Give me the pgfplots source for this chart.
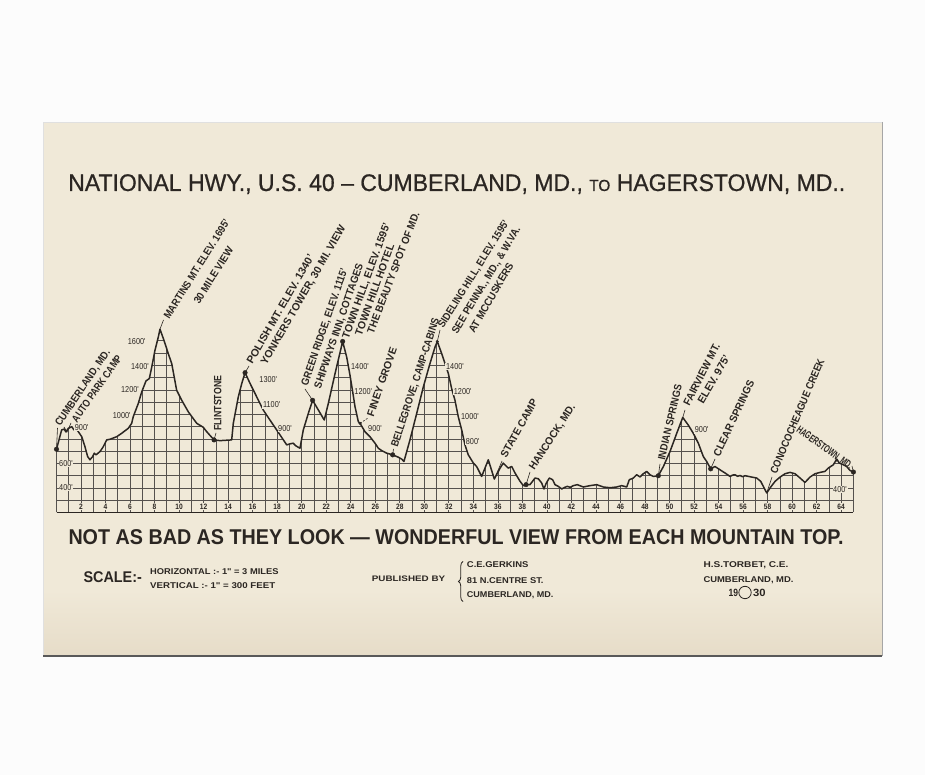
\documentclass[border=0pt]{standalone}
\usepackage{pgfplots}
\pgfplotsset{compat=1.18}
\usepackage{pgfplotstable}
\usepackage{graphicx}
\usepackage{fontspec}
\usetikzlibrary{decorations.pathreplacing}
\setmainfont{Liberation Sans}
\newfontfamily\cond{Liberation Sans}[FakeStretch=0.85]
\newfontfamily\ttlfont{Liberation Sans}[FakeBold=0.7]

\definecolor{card}{HTML}{F0E9D8}
\definecolor{cardlow}{HTML}{E6DCC8}
\definecolor{ink}{HTML}{2B2622}
\definecolor{page}{HTML}{FCFCFC}

% road profile: miles from Cumberland, elevation in feet
\pgfplotstableread{
m e
0 716
0.42 873
0.62 880
0.77 857
0.95 885
1.24 900
1.43 873
1.59 887
2.06 818
2.32 737
2.54 656
2.73 630
2.95 656
3.08 684
3.22 670
3.55 697
3.82 737
4.09 792
4.36 797
4.91 818
5.32 846
5.86 887
6.13 927
6.26 981
6.67 1089
6.95 1183
7.30 1273
7.57 1292
7.77 1386
8.03 1522
8.30 1629
8.44 1695
8.77 1603
9.12 1495
9.40 1414
9.80 1197
10.21 1116
10.75 1021
11.44 927
11.97 895
12.25 859
12.85 792
13.34 786
14.29 792
14.42 927
14.83 1143
15.11 1252
15.38 1340
15.79 1252
16.33 1143
16.87 1035
17.41 954
17.96 873
18.78 751
19.05 760
19.31 765
19.50 745
19.86 724
20.13 873
20.54 1008
20.89 1115
21.84 954
22.17 1089
22.72 1333
23.34 1595
23.67 1467
23.94 1319
24.16 1183
24.35 1062
24.62 940
24.76 927
25.16 859
25.57 818
25.98 765
26.25 724
26.52 705
26.93 684
27.42 670
27.88 651
28.16 635
28.34 616
28.83 792
29.38 1008
29.92 1224
30.46 1414
30.87 1548
31.06 1595
31.42 1495
31.69 1414
31.96 1333
32.23 1211
32.50 1116
32.77 981
33.05 873
33.32 751
33.59 670
34.00 603
34.27 575
34.68 494
35.22 630
35.71 473
36.17 560
36.44 603
36.85 562
37.13 575
37.40 522
37.81 454
38.08 419
38.30 427
38.62 427
39.03 481
39.30 475
39.57 441
39.76 392
39.95 440
40.20 481
40.47 467
40.66 427
40.93 413
41.21 392
41.45 405
41.67 413
41.90 405
42.15 419
42.48 427
42.97 408
43.52 419
44.06 427
44.60 408
45.15 402
45.69 408
46.10 419
46.51 408
46.72 467
47.05 481
47.32 508
47.60 490
47.86 516
48.14 535
48.41 508
48.68 494
49.09 500
49.50 575
50.04 697
50.59 846
51.08 975
51.53 913
51.94 846
52.35 765
52.76 656
53.03 616
53.36 556
53.71 575
54.12 548
54.53 522
54.94 494
55.15 505
55.34 508
55.55 495
55.75 502
55.95 492
56.16 500
56.70 489
57.11 481
57.44 454
57.65 413
57.93 359
58.20 400
58.61 454
59.02 489
59.42 516
59.83 527
60.24 516
60.65 481
61.05 445
61.46 489
61.87 516
62.28 527
62.68 535
62.95 562
63.36 589
63.64 635
63.85 603
64.18 589
64.45 575
64.72 543
65.00 530
}\profile

% towns and summits marked with a dot
\pgfplotstableread{
m e
0 716
12.85 792
15.38 1340
20.89 1115
23.34 1595
27.42 670
38.30 427
49.09 500
53.36 556
65.00 530
}\stops

% rotated place name: x, y, angle, length, text
\newcommand{\ann}[5]{\node[ink, anchor=west, inner sep=0pt, text height=7.6pt, text depth=0pt,
  rotate=#3, font=\bfseries\fontsize{10.6}{10.6}\selectfont] at (#1,#2) {\resizebox{#4pt}{\height}{#5}};}
% elevation figure along a slope
\newcommand{\val}[3]{\node[ink, fill=card, inner sep=0.7pt,
  font=\cond\fontsize{8.6}{8.6}\selectfont] at (#1,#2) {#3};}
% plain line of lettering: x, baseline, width, size, text
\newcommand{\txt}[5]{\node[ink, anchor=base west, inner sep=0pt] at (#1,#2)
  {\resizebox{#3pt}{\height}{\fontsize{#4}{#4}\selectfont #5}};}

\begin{document}
\begin{tikzpicture}
\useasboundingbox (0pt,0pt) rectangle (925pt,775pt);
\fill[page] (0pt,0pt) rectangle (925pt,775pt);

% the card
\begin{scope}[x=1pt, y=-1pt, yshift=775pt]
  \fill[card] (43,122) rectangle (882,656);
  \shade[top color=card, bottom color=cardlow] (43,590) rectangle (882,656);
  \draw[black!12, line width=0.6pt] (43,656) -- (43,122) -- (882,122);
  \draw[black!35, line width=0.9pt] (882,122) -- (882,656);
  \draw[black!65, line width=1.3pt] (43,656) -- (882,656);
\end{scope}

\begin{axis}[
  at={(56.5pt,262.5pt)}, anchor=south west,
  scale only axis, width=796.9pt, height=196.2pt,
  xmin=0, xmax=65, ymin=200, ymax=1800,
  clip=false,
  axis line style={draw=none}, tick style={draw=none},
  xtick={2,4,...,64}, minor xtick={0,1,...,65},
  ytick={200,300,...,1800}, yticklabels={},
  grid=both,
  major grid style={ink!80, line width=0.7pt},
  minor grid style={ink!80, line width=0.7pt},
  /pgf/number format/assume math mode=true,
  xticklabel style={anchor=center, yshift=6.1pt, fill=card, inner sep=0.6pt,
    text=ink, font=\cond\bfseries\fontsize{7.8}{7.8}\selectfont},
]
  % paper above the road hides the squared grid
  \addplot[draw=none, fill=card] table[x=m, y=e] {\profile}
    -- (axis cs:65.4,530) -- (axis cs:65.4,1900) -- (axis cs:-0.4,1900)
    -- (axis cs:-0.4,716) -- cycle;
  \addplot[ink, line width=1.5pt, line join=round] table[x=m, y=e] {\profile};
  \addplot[only marks, mark=*, mark size=2.3pt, ink] table[x=m, y=e] {\stops};
  \addplot[only marks, mark=*, mark size=1.3pt, ink] coordinates {(24.76,927) (31.06,1595)};
  \draw[ink, line width=1.4pt] (axis cs:0,200) -- (axis cs:65,200);

  \coordinate (cumb) at (axis cs:0,716);
  \coordinate (auto) at (axis cs:0.77,857);
  \coordinate (mart) at (axis cs:8.44,1695);
  \coordinate (flin) at (axis cs:12.85,792);
  \coordinate (pol) at (axis cs:15.38,1340);
  \coordinate (grn) at (axis cs:20.89,1115);
  \coordinate (town) at (axis cs:23.34,1595);
  \coordinate (finey) at (axis cs:24.76,927);
  \coordinate (belle) at (axis cs:27.42,670);
  \coordinate (side) at (axis cs:31.06,1595);
  \coordinate (state) at (axis cs:35.71,473);
  \coordinate (hanc) at (axis cs:38.30,427);
  \coordinate (ind) at (axis cs:49.09,500);
  \coordinate (fair) at (axis cs:51.08,975);
  \coordinate (clear) at (axis cs:53.36,556);
  \coordinate (cono) at (axis cs:57.93,359);
  \coordinate (hag) at (axis cs:65,530);
\end{axis}

\begin{scope}[x=1pt, y=-1pt, yshift=775pt]
  % leaders from the places to their names
  \begin{scope}[ink, line width=0.6pt]
    \draw (cumb) -- (57.5,428);
    \draw (auto) -- (64,427) -- (67,432) -- (71,423);
    \draw (mart) -- (163.5,320);
    \draw (flin) -- (216,433);
    \draw (pol) -- (249,366);
    \draw (grn) -- (305,389);
    \draw (town) -- (344.5,341);
    \draw[dash pattern=on 2pt off 1.5pt] (finey) -- (368,418);
    \draw (belle) -- (393.5,449);
    \draw (side) -- (440,330);
    \draw (state) -- (502,461);
    \draw (hanc) -- (530,472);
    \draw (ind) -- (660,464);
    \draw (fair) -- (685,410);
    \draw (clear) -- (715,459);
    \draw (cono) -- (772,477);
    \draw (hag) -- (852,466);
  \end{scope}

  % place names
  \ann{57}{425}{56}{90}{CUMBERLAND, MD.}
  \ann{74}{421}{55}{79}{AUTO PARK CAMP}
  \ann{166}{318}{58}{115}{MARTINS MT. ELEV. 1695'}
  \ann{196}{303}{58}{65}{30 MILE VIEW}
  \ann{217.5}{431}{90}{55}{FLINTSTONE}
  \ann{249}{363}{60}{124}{POLISH MT. ELEV. 1340'}
  \ann{263}{364}{60}{159}{YONKERS TOWER, 30 MI. VIEW}
  \ann{304}{385}{71}{123}{GREEN RIDGE, ELEV. 1115'}
  \ann{317}{388}{71}{131}{SHIPWAYS INN, COTTAGES}
  \ann{345}{338}{70}{122}{TOWN HILL, ELEV. 1595'}
  \ann{358}{335}{70}{96}{TOWN HILL HOTEL}
  \ann{370}{333}{69}{129}{THE BEAUTY SPOT OF MD.}
  \ann{370}{416}{71}{72}{FINEY GROVE}
  \ann{394}{447}{72}{135}{BELLEGROVE, CAMP-CABINS}
  \ann{440}{327}{58}{125}{SIDELING HILL, ELEV. 1595'}
  \ann{454}{333}{59}{123}{SEE PENNA., MD., \& W.VA.}
  \ann{471}{332}{60}{79}{AT MCCUSKERS}
  \ann{503}{457}{61}{65}{STATE CAMP}
  \ann{531}{469}{57}{76}{HANCOCK, MD.}
  \ann{661}{460}{77}{77}{INDIAN SPRINGS}
  \ann{686}{405}{63}{68}{FAIRVIEW MT.}
  \ann{700}{403}{60}{54}{ELEV. 975'}
  \ann{716}{456}{65}{83}{CLEAR SPRINGS}
  \ann{773}{473}{67}{123}{CONOCOCHEAGUE CREEK}
  \ann{798}{428}{-36}{66}{HAGERSTOWN, MD.}

  % elevations along the slopes
  \val{136.7}{341.7}{1600'}
  \val{140}{366.7}{1400'}
  \val{130}{390}{1200'}
  \val{121.7}{416}{1000'}
  \val{81.7}{427.7}{900'}
  \val{66}{463.3}{600'}
  \val{66}{487.7}{400'}
  \val{268.3}{379.3}{1300'}
  \val{271.7}{405}{1100'}
  \val{285}{428.3}{900'}
  \val{360}{366.7}{1400'}
  \val{363.3}{391.7}{1200'}
  \val{375}{428.3}{900'}
  \val{455}{366.7}{1400'}
  \val{462.7}{391.7}{1200'}
  \val{470}{416.7}{1000'}
  \val{472.7}{441.7}{800'}
  \val{701.7}{430}{900'}
  \val{840}{489.3}{400'}

  % lettering
  \txt{68}{191}{777}{24}{\ttlfont NATIONAL HWY., U.S. 40 \textendash{} CUMBERLAND, MD., {\fontsize{16}{16}\selectfont TO} HAGERSTOWN, MD..}
  \txt{68.3}{544.3}{775}{21.4}{\bfseries NOT AS BAD AS THEY LOOK \textemdash{} WONDERFUL VIEW FROM EACH MOUNTAIN TOP.}
  \txt{83.3}{582.3}{58.4}{15.5}{\bfseries SCALE:-}
  \txt{150}{574.3}{128.3}{8.4}{\bfseries HORIZONTAL :- 1\textquotedbl{} = 3 MILES}
  \txt{150}{588.3}{125}{8.4}{\bfseries VERTICAL :- 1\textquotedbl{} = 300 FEET}
  \txt{371.7}{581.7}{73.3}{8}{\bfseries PUBLISHED BY}
  \draw[ink, line width=0.8pt, decorate, decoration={brace, amplitude=4.5pt}] (463,601.5) -- (463,561.5);
  \txt{466.7}{567.7}{61.6}{8.4}{\bfseries C.E.GERKINS}
  \txt{466.7}{583.3}{76.6}{8.4}{\bfseries 81 N.CENTRE ST.}
  \txt{466.7}{597.7}{86.6}{8.4}{\bfseries CUMBERLAND, MD.}
  \txt{703.3}{567.7}{85}{8.4}{\bfseries H.S.TORBET, C.E.}
  \txt{703.3}{582.3}{90}{8.4}{\bfseries CUMBERLAND, MD.}
  \txt{728.3}{596.7}{9.5}{10.5}{\bfseries 19}
  \draw[ink, line width=0.8pt] (745,592.5) circle (6.2);
  \txt{753}{596.7}{12.5}{10.5}{\bfseries 30}
\end{scope}
\end{tikzpicture}
\end{document}
